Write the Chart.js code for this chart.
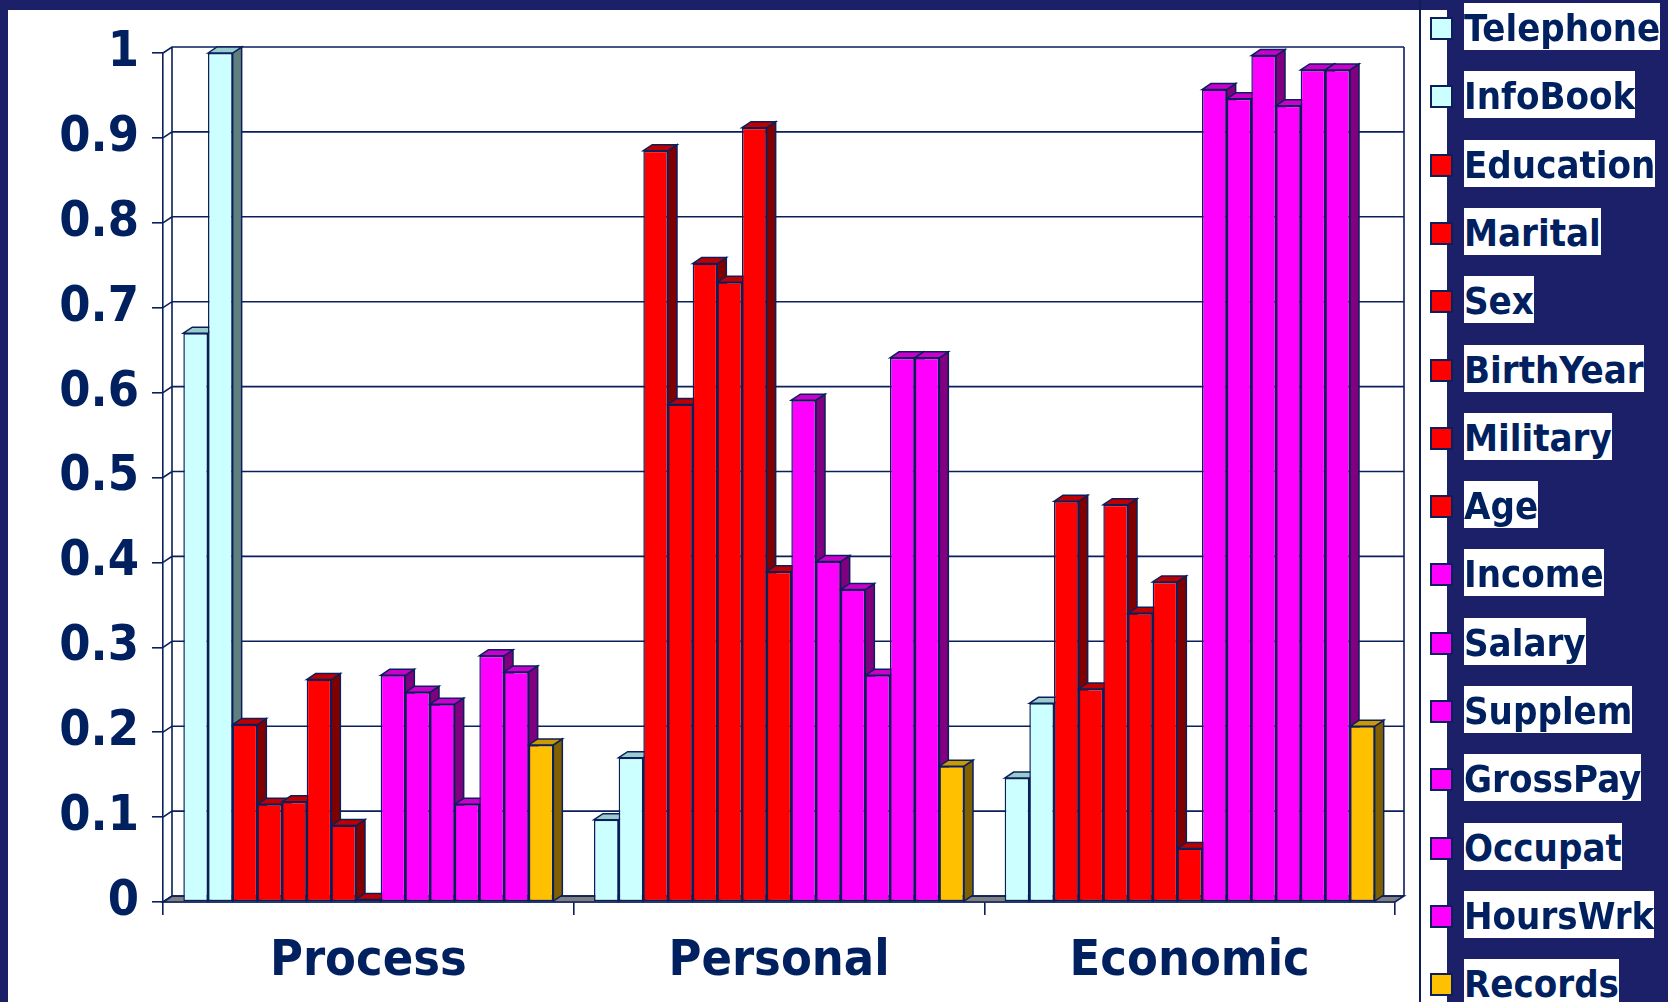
<!DOCTYPE html>
<html>
<head>
<meta charset="utf-8">
<script src="https://cdn.jsdelivr.net/npm/chart.js@4.4.1/dist/chart.umd.min.js"></script>
<style>
  html, body { margin: 0; padding: 0; }
  body {
    width: 1668px; height: 1002px; overflow: hidden; position: relative;
    background: #1c2068;
    font-family: Tahoma, "DejaVu Sans Condensed", "DejaVu Sans", sans-serif;
  }
  #sheet { position: absolute; left: 8px; top: 10px; width: 1439px; height: 992px; background: #fff; }
  #divider { position: absolute; left: 1419px; top: 0; width: 2px; height: 1002px; background: #0b1f5c; }
  #chart { position: absolute; left: 0; top: 0; }
  #legend { position: absolute; left: 0; top: 0; margin: 0; padding: 0; list-style: none; }
  #legend li { position: absolute; left: 1430px; height: 47px; white-space: nowrap; }
  #legend .swatch {
    position: absolute; left: 0; top: 14px; width: 19px; height: 19px;
    border: 2px solid #0b1f5c;
  }
  #legend .name {
    position: absolute; left: 34px; top: 0; height: 47px; line-height: 50px;
    background: #fff; color: #00205f; font-weight: bold; font-size: 38px;
  }
</style>
</head>
<body>
<div id="sheet"></div>
<div id="divider"></div>
<canvas id="chart" width="1668" height="1002"></canvas>
<ul id="legend"></ul>
<script>
const categories = ["Process", "Personal", "Economic"];

// one array per variable: Process, Personal, Economic
const telephone = [0.670, 0.097, 0.146];
const infoBook  = [1.000, 0.170, 0.234];
const education = [0.209, 0.885, 0.472];
const marital   = [0.115, 0.586, 0.251];
const sex       = [0.118, 0.752, 0.468];
const birthYear = [0.262, 0.730, 0.340];
const military  = [0.090, 0.912, 0.377];
const age       = [0.003, 0.389, 0.063];
const income    = [0.267, 0.591, 0.957];
const salary    = [0.247, 0.401, 0.946];
const supplem   = [0.233, 0.368, 0.997];
const grossPay  = [0.115, 0.267, 0.938];
const occupat   = [0.290, 0.641, 0.980];
const hoursWrk  = [0.271, 0.641, 0.980];
const records   = [0.185, 0.160, 0.207];

const yTicks = [0, 0.1, 0.2, 0.3, 0.4, 0.5, 0.6, 0.7, 0.8, 0.9, 1];

const LINE = "#0b1f5c";
const TEXT = "#00205f";
const FONT = 'Tahoma, "DejaVu Sans Condensed", "DejaVu Sans", sans-serif';

// front / top / side shades for each colour group
const SHADES = {
  contact:  { front: "#ccffff", top: "#99cccc", side: "#608080" },
  personal: { front: "#ff0000", top: "#c00000", side: "#800000" },
  economic: { front: "#ff00ff", top: "#cc00cc", side: "#800080" },
  records:  { front: "#ffc000", top: "#cc9a00", side: "#806000" },
};

const series = [
  ["Telephone", telephone, "contact"],
  ["InfoBook", infoBook, "contact"],
  ["Education", education, "personal"],
  ["Marital", marital, "personal"],
  ["Sex", sex, "personal"],
  ["BirthYear", birthYear, "personal"],
  ["Military", military, "personal"],
  ["Age", age, "personal"],
  ["Income", income, "economic"],
  ["Salary", salary, "economic"],
  ["Supplem", supplem, "economic"],
  ["GrossPay", grossPay, "economic"],
  ["Occupat", occupat, "economic"],
  ["HoursWrk", hoursWrk, "economic"],
  ["Records", records, "records"],
];

const DX = 9, DY = 6; // depth of the 3-D box

function poly(ctx, pts, fill) {
  ctx.beginPath();
  ctx.moveTo(pts[0][0], pts[0][1]);
  for (let i = 1; i < pts.length; i++) ctx.lineTo(pts[i][0], pts[i][1]);
  ctx.closePath();
  if (fill) { ctx.fillStyle = fill; ctx.fill(); }
  ctx.stroke();
}

// back wall, floor and the top/side faces of every column
const box3d = {
  id: "box3d",
  beforeDatasetsDraw(chart) {
    const { ctx, chartArea: a, scales } = chart;
    const yS = scales.y;
    ctx.save();
    ctx.strokeStyle = LINE;
    ctx.lineWidth = 1.6;

    poly(ctx, [[a.left, a.bottom], [a.right, a.bottom], [a.right + DX, a.bottom - DY], [a.left + DX, a.bottom - DY]], "#808080");

    ctx.beginPath();
    yTicks.forEach((v) => {
      const py = yS.getPixelForValue(v);
      ctx.moveTo(a.left, py);
      ctx.lineTo(a.left + DX, py - DY);
      ctx.lineTo(a.right + DX, py - DY);
    });
    const top = yS.getPixelForValue(1);
    ctx.moveTo(a.left + DX, top - DY);
    ctx.lineTo(a.left + DX, a.bottom - DY);
    ctx.moveTo(a.right + DX, top - DY);
    ctx.lineTo(a.right + DX, a.bottom - DY);
    ctx.stroke();

    const metas = chart.getSortedVisibleDatasetMetas().slice().sort((p, q) => p.index - q.index);
    ctx.lineWidth = 1.5;
    for (let c = 0; c < categories.length; c++) {
      metas.forEach((meta) => {
        const bar = meta.data[c];
        const { x, y, base, width } = bar.getProps(["x", "y", "base", "width"], true);
        const l = x - width / 2, r = x + width / 2;
        const sh = SHADES[series[meta.index][2]];
        poly(ctx, [[r, y], [r + DX, y - DY], [r + DX, base - DY], [r, base]], sh.side);
        poly(ctx, [[l, y], [l + DX, y - DY], [r + DX, y - DY], [r, y]], sh.top);
      });
    }
    ctx.restore();
  },
};

Chart.defaults.font.family = FONT;
Chart.defaults.font.weight = "bold";
Chart.defaults.color = TEXT;

const chart = new Chart(document.getElementById("chart"), {
  type: "bar",
  data: {
    labels: categories,
    datasets: series.map(([name, values, group]) => ({
      label: name,
      data: values,
      backgroundColor: SHADES[group].front,
      borderColor: LINE,
      borderWidth: 1.5,
      borderSkipped: false,
      categoryPercentage: 0.901,
      barPercentage: 1,
    })),
  },
  options: {
    responsive: false,
    devicePixelRatio: 1,
    animation: false,
    events: [],
    layout: { padding: { left: 0, top: 53, right: 273, bottom: 0 } },
    plugins: { legend: { display: false }, tooltip: { enabled: false } },
    scales: {
      x: {
        grid: { drawOnChartArea: false, tickLength: 13, color: LINE, lineWidth: 1.6 },
        border: { color: LINE, width: 1.6 },
        ticks: { font: { size: 50, weight: "bold" }, color: TEXT, padding: 17 },
        afterFit: (s) => { s.height = 100; },
      },
      y: {
        min: 0,
        max: 1,
        afterBuildTicks: (s) => { s.ticks = yTicks.map((v) => ({ value: v })); },
        grid: { drawOnChartArea: false, tickLength: 11, color: LINE, lineWidth: 1.6 },
        border: { color: LINE, width: 1.6 },
        ticks: {
          font: { size: 50, weight: "bold" },
          color: TEXT,
          padding: 13,
          callback: (v) => String(Number(v.toFixed(1))),
        },
        afterFit: (s) => { s.width = 163; },
      },
    },
  },
  plugins: [box3d],
});

// legend built from the datasets
const legend = document.getElementById("legend");
chart.data.datasets.forEach((ds, i) => {
  const li = document.createElement("li");
  li.style.top = (3 + i * 68.3) + "px";
  li.innerHTML = `<span class="swatch" style="background:${ds.backgroundColor}"></span><span class="name">${ds.label}</span>`;
  legend.appendChild(li);
});
</script>
</body>
</html>
